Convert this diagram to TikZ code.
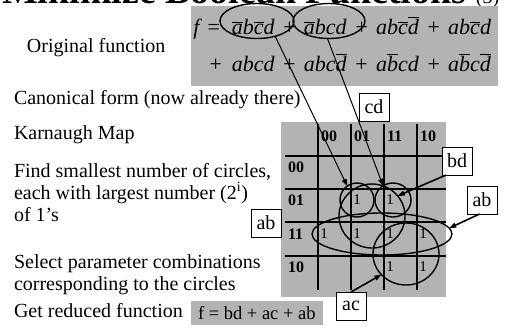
\documentclass[tikz,border=0pt]{standalone}
\usepackage{fontspec}
\setmainfont{Liberation Serif}
\usetikzlibrary{arrows.meta, positioning, shapes.geometric}
\definecolor{slidegray}{HTML}{B3B3B3}

\newcommand{\nt}[1]{$\overline{\mbox{#1}}$}
\newcommand{\plus}{\hspace{.33em}+\hspace{.33em}}

\begin{document}
\begin{tikzpicture}[
    x=1pt, y=-1pt,
    >={Triangle[length=7pt, width=5pt]},
    every node/.style={inner sep=0pt, outer sep=0pt},
    txt/.style={anchor=base west, align=left, font=\fontsize{20}{22}\selectfont},
    ring/.style={ellipse, draw, line width=1.4pt},
    tag/.style={draw, fill=white, line width=0.9pt, minimum width=30pt,
                minimum height=28pt, font=\fontsize{20}{22}\selectfont},
    hdr/.style={font=\bfseries\fontsize{16}{18}\selectfont},
    one/.style={font=\fontsize{15}{17}\selectfont},
  ]

  % Page
  \useasboundingbox (0,0) rectangle (507,333);
  \clip (0,0) rectangle (507,333);
  \fill[white] (0,0) rectangle (507,333);

  % Title (cut off by the top edge)
  \node[anchor=base west, font=\bfseries\fontsize{38}{40}\selectfont] (title) at (2,3)
    {Minimize Boolean Functions {\mdseries\fontsize{20}{22}\selectfont (3)}};

  % === Steps on the left ===
  % (multi-line nodes: base = last line)
  \node[txt] (orig) at (27,52) {Original function};
  \node[txt] (canon) at (14,104) {Canonical form (now already there)};
  \node[txt] (kmap) at (14,139) {Karnaugh Map};
  \node[txt] (find) at (14,221) {Find smallest number of circles,\\
    each with largest number (2\textsuperscript{i})\\of 1's};
  \node[txt] (select) at (14,290) {Select parameter combinations\\
    corresponding to the circles};
  \node[txt] (reduce) at (14,317) {Get reduced function};

  % === Original function ===
  \fill[slidegray] (191,6) rectangle (498,86);
  \node[anchor=base east, font=\itshape\fontsize{22}{24}\selectfont] (line1) at (491,34)
    {f\hspace{.3em}=\hspace{.5em}\nt{a}b\nt{c}d\plus \nt{a}bcd\plus ab\nt{c}\nt{d}\plus ab\nt{c}d};
  \node[anchor=base east, font=\itshape\fontsize{22}{24}\selectfont] (line2) at (491,71)
    {+\hspace{.4em}abcd\plus abc\nt{d}\plus a\nt{b}cd\plus a\nt{b}c\nt{d}};
  \node[ring, minimum width=74pt, minimum height=35pt] (fA) at (257,21) {};
  \node[ring, minimum width=72pt, minimum height=35pt] (fB) at (329,21) {};

  % === Karnaugh map ===
  \fill[slidegray] (281,122) rectangle (446,297);
  \foreach \x in {318,351,384,417}
    \draw[line width=1.2pt] (\x,124) -- (\x,290);
  \foreach \y in {156,189,222,256}
    \draw[line width=1.2pt] (285,\y) -- (446,\y);
  \foreach \lab [count=\i from 0] in {00,01,11,10} {
    \node[hdr, anchor=west] (col\i) at (321+33*\i,136) {\lab};
    \node[hdr, anchor=west] (row\i) at (288,167+33.4*\i) {\lab};
  }
  \foreach \px/\py in {357/200,390/200,324/234,357/234,390/234,423/234,390/267,423/267}
    \node[one] (one-\px-\py) at (\px,\py) {1};

  % Circles
  \node[ring, minimum size=34pt] (kA) at (357,200) {};
  \node[ring, minimum width=36pt, minimum height=34pt] (kB) at (393,200) {};
  \node[ring, minimum width=66pt, minimum height=64pt] (kBD) at (372,216) {};
  \node[ring, minimum width=140pt, minimum height=42pt] (kAB) at (382,234) {};
  \node[ring, minimum width=66pt, minimum height=62pt] (kAC) at (406,254) {};

  % Labels
  \node[tag] (cd) at (374,107) {cd};
  \node[tag] (bd) at (457,161) {bd};
  \node[tag] (abR) at (482,200) {ab};
  \node[tag] (abL) at (266,223) {ab};
  \node[tag] (ac) at (351,306) {ac};

  \draw[->, line width=1pt] (fA.-40) -- (kA.125);
  \draw[->, line width=1pt] (fB.-95) -- (kB.125);
  \draw[->, line width=1.6pt] (bd.-128) -- (kBD.38);
  \draw[->, line width=1.6pt] (abR.-100) -- (kAB.5);
  \draw[->, line width=1.6pt] (ac.north) -- (kAC.220);

  % === Reduced function ===
  \node[fill=slidegray, anchor=west, minimum height=24pt, inner xsep=7pt,
        font=\fontsize{18.5}{20}\selectfont] (result) at (191,313) {f = bd + ac + ab};

\end{tikzpicture}
\end{document}
